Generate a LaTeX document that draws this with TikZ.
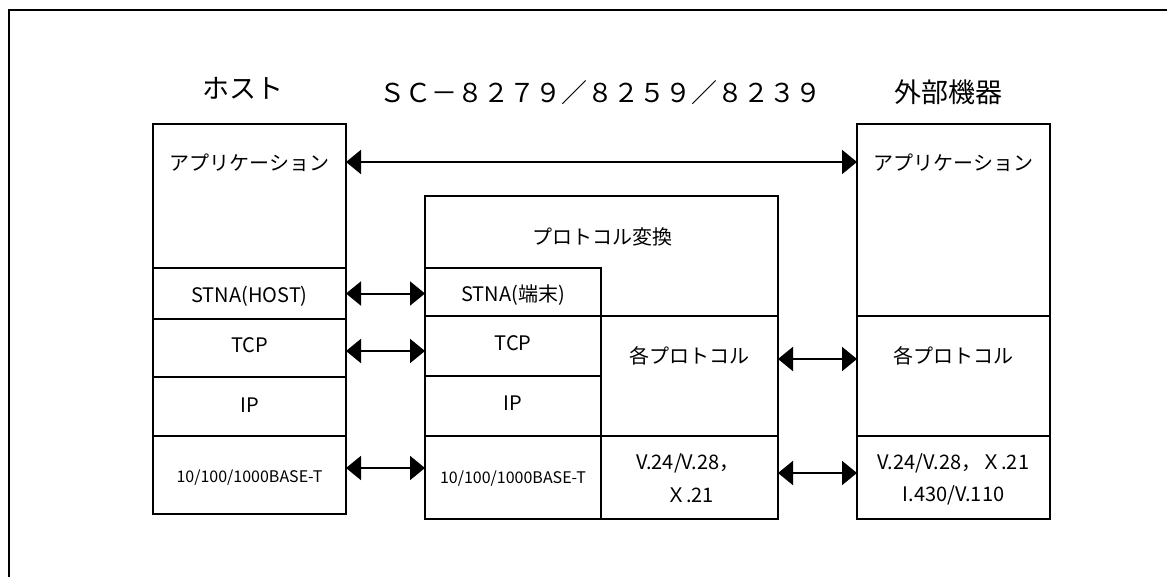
\documentclass[tikz,border=0pt]{standalone}
\usepackage{fontspec}
\setmainfont{Noto Sans CJK JP}
\usetikzlibrary{arrows.meta,fit}
\begin{document}
\begin{tikzpicture}[x=1pt,y=-1pt,
  cell/.style={draw, line width=2pt, inner sep=0pt, outer sep=0pt},
  txt/.style={inner sep=0pt, font=\fontsize{20}{32}\selectfont, align=center},
  small/.style={inner sep=0pt, font=\fontsize{16}{20}\selectfont},
  head/.style={inner sep=0pt, font=\fontsize{27}{30}\selectfont},
  biarrow/.style={line width=2pt, {Triangle[length=15pt,width=24pt]}-{Triangle[length=15pt,width=24pt]}}]
\useasboundingbox (0,0) rectangle (1167,576);
\fill[white] (0,0) rectangle (1167,576);
% outer frame
\draw[line width=2pt] (9,600) -- (9,10) -- (1190,10);
% headings
\node[head] (hhost) at (243,88) {ホスト};
\node[head, font=\fontsize{26}{30}\selectfont] (htitle) at (600,93) {ＳＣ－８２７９／８２５９／８２３９};
\node[head] (hext) at (948,92) {外部機器};
% host column
\node[cell, fit={(153,124) (346,268)}] (happ) {};
\node[cell, fit={(153,268) (346,319)}] (hstna) {};
\node[cell, fit={(153,319) (346,377)}] (htcp) {};
\node[cell, fit={(153,377) (346,436)}] (hip) {};
\node[cell, fit={(153,436) (346,514)}] (heth) {};
\node[txt] (thapp) at (249.5,163) {アプリケーション};
\node[txt] (thstna) at (249.5,296) {STNA(HOST)};
\node[txt] (thtcp) at (249.5,345) {TCP};
\node[txt] (thip) at (249.5,405) {IP};
\node[small] (theth) at (249.5,478) {10/100/1000BASE-T};
% center column
\node[cell, fit={(425,196) (778,519)}] (cbox) {};
\node[cell, fit={(425,268) (601,316)}] (cstna) {};
\node[cell, fit={(425,316) (601,376)}] (ctcp) {};
\node[cell, fit={(425,376) (601,436)}] (cip) {};
\node[cell, fit={(425,436) (601,519)}] (ceth) {};
\node[cell, fit={(601,316) (778,436)}] (cproto) {};
\node[cell, fit={(601,436) (778,519)}] (cphy) {};
\node[txt] (tcconv) at (602,237) {プロトコル変換};
\node[txt] (tcstna) at (513,295) {STNA(端末)};
\node[txt] (tctcp) at (513,343) {TCP};
\node[txt] (tcip) at (513,403) {IP};
\node[small] (tceth) at (513,479) {10/100/1000BASE-T};
\node[txt] (tcproto) at (689.5,356) {各プロトコル};
\node[txt] (tcphy1) at (688,463) {V.24/V.28，};
\node[txt] (tcphy2) at (690,495) {Ｘ.21};
% right column
\node[cell, fit={(857,124) (1050,316)}] (rapp) {};
\node[cell, fit={(857,316) (1050,436)}] (rproto) {};
\node[cell, fit={(857,436) (1050,519)}] (rphy) {};
\node[txt] (trapp) at (953.5,163) {アプリケーション};
\node[txt] (trproto) at (953.5,356) {各プロトコル};
\node[txt] (trphy1) at (953.5,463) {V.24/V.28，Ｘ.21};
\node[txt] (trphy2) at (953.5,495) {I.430/V.110};
% arrows
\coordinate (a1) at ([yshift=1pt]happ.east |- thapp.center);
\draw[biarrow] (a1) -- (a1 -| rapp.west);
\draw[biarrow] (hstna.east) -- (hstna.east -| cstna.west);
\coordinate (a3) at ([yshift=-3pt]htcp.east);
\draw[biarrow] (a3) -- (a3 -| ctcp.west);
\coordinate (a4) at ([yshift=7pt]heth.east);
\draw[biarrow] (a4) -- (a4 -| ceth.west);
\coordinate (a5) at ([yshift=17pt]cproto.east);
\draw[biarrow] (a5) -- (a5 -| rproto.west);
\coordinate (a6) at ([yshift=4.5pt]cphy.east);
\draw[biarrow] (a6) -- (a6 -| rphy.west);
\end{tikzpicture}
\end{document}
